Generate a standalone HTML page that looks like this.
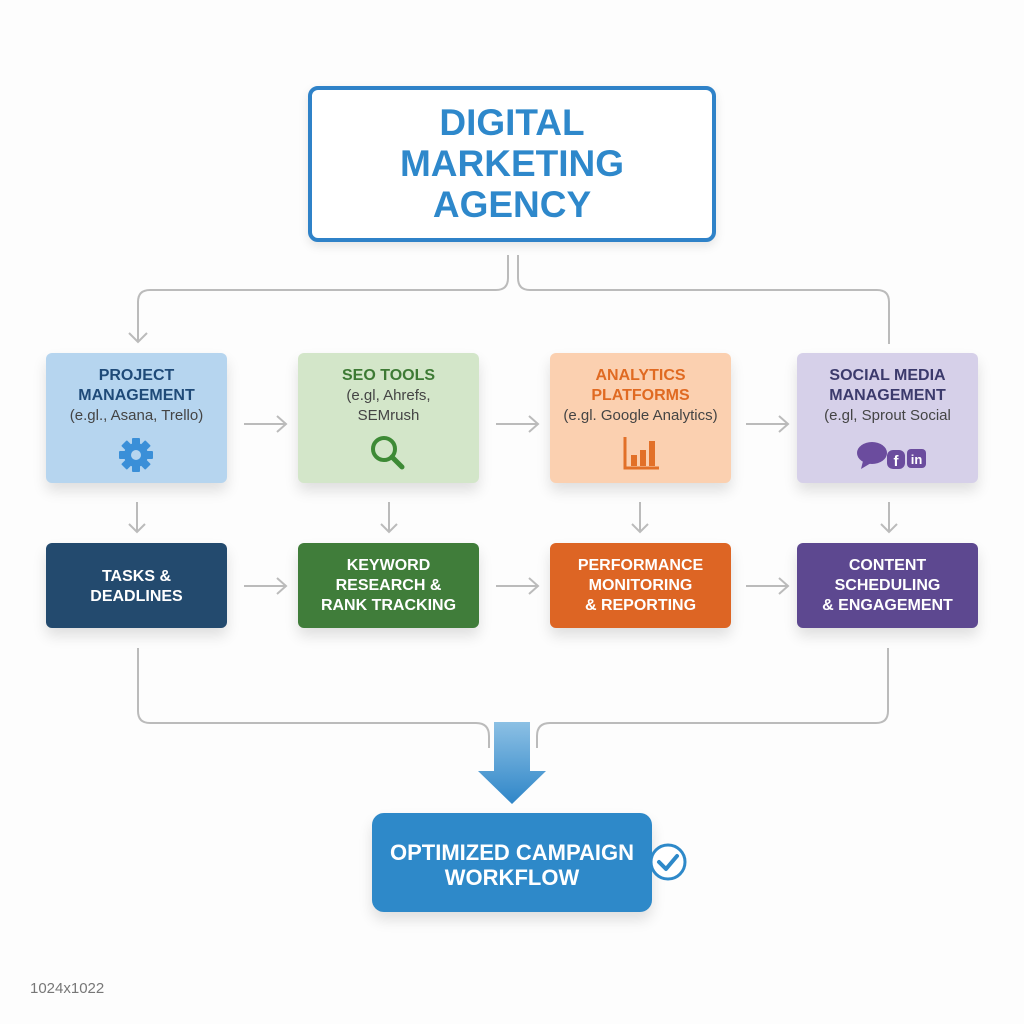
<!DOCTYPE html>
<html><head><meta charset="utf-8"><style>
body{margin:0;width:1024px;height:1024px;background:#fdfdfd;font-family:"Liberation Sans",Arial,sans-serif;position:relative;overflow:hidden}
.b{position:absolute;box-sizing:border-box;border-radius:6px;text-align:center;font-weight:bold;box-shadow:0 8px 14px rgba(0,0,0,0.12)}
.r1{top:353px;height:130px;width:181px;padding-top:13px;font-size:16px;line-height:20px}
.r1 .s{font-weight:normal;font-size:15px;color:#444}
.r2{top:543px;height:85px;width:181px;color:#fff;font-size:16px;line-height:20px;display:flex;align-items:center;justify-content:center}
.t{position:absolute;left:308px;top:86px;width:408px;height:156px;box-sizing:border-box;border:4px solid #2f82c8;border-radius:10px;background:#fff;color:#2e88cb;font-weight:bold;font-size:37px;line-height:41px;text-align:center;padding-top:12px;box-shadow:0 4px 10px rgba(0,0,0,0.1)}
</style></head><body>
<svg width="1024" height="1024" style="position:absolute;left:0;top:0" fill="none" stroke="#bbb" stroke-width="2">
<path d="M508 255 V278 Q508 290 496 290 H150 Q138 290 138 302 V342"/>
<path d="M129 333 L138 342 L147 333"/>
<path d="M518 255 V278 Q518 290 530 290 H877 Q889 290 889 302 V344"/>
<path d="M138 648 V711 Q138 723 150 723 H476 Q489 723 489 736 V748"/>
<path d="M888 648 V711 Q888 723 876 723 H550 Q537 723 537 736 V748"/>
<g>
<path d="M244 424 H286 M277 416 L286 424 L277 432"/>
<path d="M496 424 H538 M529 416 L538 424 L529 432"/>
<path d="M746 424 H788 M779 416 L788 424 L779 432"/>
<path d="M244 586 H286 M277 578 L286 586 L277 594"/>
<path d="M496 586 H538 M529 578 L538 586 L529 594"/>
<path d="M746 586 H788 M779 578 L788 586 L779 594"/>
<path d="M137 502 V532 M129 524 L137 532 L145 524"/>
<path d="M389 502 V532 M381 524 L389 532 L397 524"/>
<path d="M640 502 V532 M632 524 L640 532 L648 524"/>
<path d="M889 502 V532 M881 524 L889 532 L897 524"/>
</g>
<defs><linearGradient id="g" x1="0" y1="0" x2="0" y2="1"><stop offset="0" stop-color="#8cc0e4"/><stop offset="1" stop-color="#2f86c8"/></linearGradient></defs>
<path d="M494 722 H530 V771 H546 L512 804 L478 771 H494 Z" fill="url(#g)" stroke="none"/>
</svg>
<div class="t">DIGITAL<br>MARKETING<br>AGENCY</div>

<div class="b r1" style="left:46px;background:#b6d5ef;color:#1f4a78">PROJECT<br>MANAGEMENT<br><span class="s">(e.gl., Asana, Trello)</span>
<svg width="40" height="40" viewBox="0 0 40 40" style="position:absolute;left:70px;top:82px"><g fill="#3a8fd8"><circle cx="20" cy="20" r="12"/><g><rect x="16" y="3" width="8" height="34" rx="1"/><rect x="16" y="3" width="8" height="34" rx="1" transform="rotate(45 20 20)"/><rect x="16" y="3" width="8" height="34" rx="1" transform="rotate(90 20 20)"/><rect x="16" y="3" width="8" height="34" rx="1" transform="rotate(135 20 20)"/></g></g><circle cx="20" cy="20" r="5" fill="#b6d5ef"/></svg></div>

<div class="b r1" style="left:298px;background:#d3e6c9;color:#3d7a34">SEO TOOLS<br><span class="s">(e.gl, Ahrefs,<br>SEMrush</span>
<svg width="40" height="40" viewBox="0 0 40 40" style="position:absolute;left:70px;top:80px"><circle cx="16" cy="16" r="11" fill="none" stroke="#3d8a35" stroke-width="4"/><path d="M24 24 L34 34" stroke="#3d8a35" stroke-width="5" stroke-linecap="round"/></svg></div>

<div class="b r1" style="left:550px;background:#fbd0b0;color:#e06a22">ANALYTICS<br>PLATFORMS<br><span class="s">(e.gl. Google Analytics)</span>
<svg width="40" height="40" viewBox="0 0 40 40" style="position:absolute;left:72px;top:82px"><path d="M3 2 V33 H37" stroke="#e27028" stroke-width="3" fill="none"/><rect x="9" y="20" width="6" height="11" fill="#e27028"/><rect x="18" y="15" width="6" height="16" fill="#e27028"/><rect x="27" y="6" width="6" height="25" fill="#e27028"/></svg></div>

<div class="b r1" style="left:797px;background:#d6d0e9;color:#3b3a6c">SOCIAL MEDIA<br>MANAGEMENT<br><span class="s">(e.gl, Sprout Social</span>
<svg width="80" height="40" viewBox="0 0 80 40" style="position:absolute;left:58px;top:84px"><ellipse cx="17" cy="16" rx="15" ry="11" fill="#6b4c9e"/><path d="M8 24 L6 32 L16 26Z" fill="#6b4c9e"/><rect x="32" y="13" width="18" height="19" rx="6" fill="#6b4c9e"/><text x="41" y="29" font-size="15" font-weight="bold" fill="#fff" text-anchor="middle" font-family="Liberation Sans">f</text><rect x="52" y="12" width="19" height="19" rx="4" fill="#6b4c9e"/><text x="61.5" y="27" font-size="13" font-weight="bold" fill="#fff" text-anchor="middle" font-family="Liberation Sans">in</text></svg></div>

<div class="b r2" style="left:46px;background:#234a6e;padding-top:3px">TASKS &amp;<br>DEADLINES</div>
<div class="b r2" style="left:298px;background:#407d3a">KEYWORD<br>RESEARCH &amp;<br>RANK TRACKING</div>
<div class="b r2" style="left:550px;background:#dd6524">PERFORMANCE<br>MONITORING<br>&amp; REPORTING</div>
<div class="b r2" style="left:797px;background:#5d4890">CONTENT<br>SCHEDULING<br>&amp; ENGAGEMENT</div>

<div class="b" style="left:372px;top:813px;width:280px;height:99px;background:#2e89c9;border-radius:12px;color:#fff;font-size:22px;line-height:25px;display:flex;align-items:center;justify-content:center;padding-top:4px">OPTIMIZED CAMPAIGN<br>WORKFLOW</div>
<svg width="40" height="40" style="position:absolute;left:648px;top:842px"><circle cx="20" cy="20" r="17" fill="#fff" stroke="#2e89c9" stroke-width="3"/><path d="M11 20 L18 27 L29 14" stroke="#2e89c9" stroke-width="4" fill="none" stroke-linecap="round" stroke-linejoin="round"/></svg>
<div style="position:absolute;left:30px;top:980px;font-size:15px;color:#777">1024x1022</div>
</body></html>
